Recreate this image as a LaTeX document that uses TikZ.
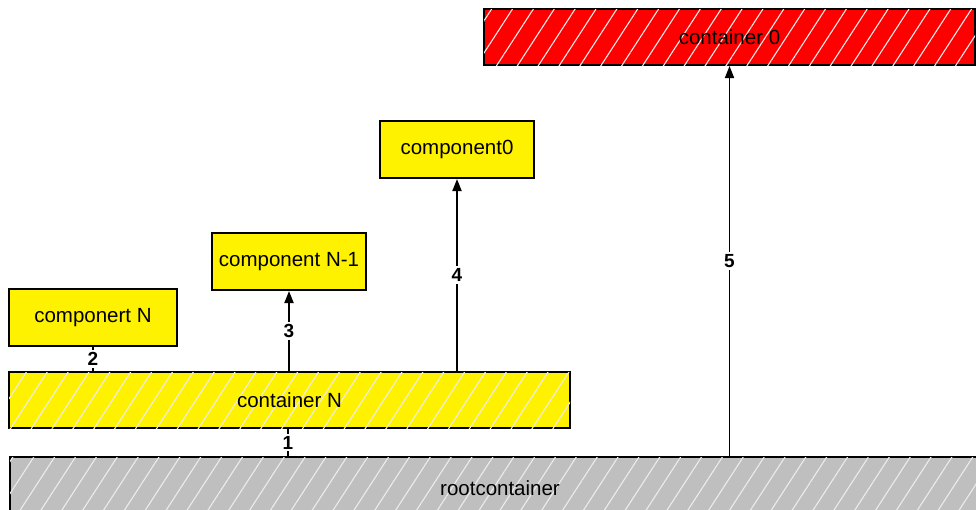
\documentclass[tikz,border=0pt]{standalone}
\usepackage{fontspec}
\setmainfont{Liberation Sans}
\usetikzlibrary{arrows.meta,patterns.meta}

\tikzset{
    comp/.style={draw, line width=2pt, fill=yellow, minimum height=57pt,
        font=\fontsize{20.5}{24}\selectfont, inner sep=0pt},
    cont/.style={comp, fill=#1, postaction={pattern={Lines[angle=57,distance=17.5pt,line width=1.1pt]}, pattern color=white!85!gray}},
    lbl/.style={fill=white, inner sep=2pt, font=\fontsize{19}{21}\selectfont\bfseries},
    conn/.style={line width=1.8pt},
    arr/.style={conn, -{Triangle[length=12pt,width=9pt]}}
}

\begin{document}
\begin{tikzpicture}[x=1pt,y=-1pt]
    \useasboundingbox (0,0) rectangle (976,509);
    \clip (0,0) rectangle (976,509);

    %blocks
    \node[cont=red, minimum width=491pt, minimum height=56pt] (cont0) at (729.5,37) {container 0};
    \node[comp, minimum width=154pt] (comp0) at (457,149.5) {component0};
    \node[comp, minimum width=154pt] (compNm1) at (289,261.5) {component N-1};
    \node[comp, minimum width=168pt] (compN) at (93,317.5) {componert N};
    \node[cont=yellow, minimum width=561pt, minimum height=56pt] (contN) at (289.5,400) {container N};
    \node[cont=black!25, minimum width=980pt, minimum height=62pt] (root) at (500,488) {rootcontainer};

    %lower links
    \draw[conn] (contN.south -| 288,0) -- (root.north -| 288,0) node[midway,lbl]{1};
    \draw[conn] (compN.south) -- (contN.north -| compN.south) node[midway,lbl]{2};

    %upper arrows
    \draw[arr] (contN.north -| compNm1.south) -- (compNm1.south) node[midway,lbl]{3};
    \draw[arr] (contN.north -| comp0.south) -- (comp0.south) node[midway,lbl]{4};
    \draw[arr] (root.north -| cont0.south) -- (cont0.south) node[midway,lbl]{5};
\end{tikzpicture}
\end{document}
